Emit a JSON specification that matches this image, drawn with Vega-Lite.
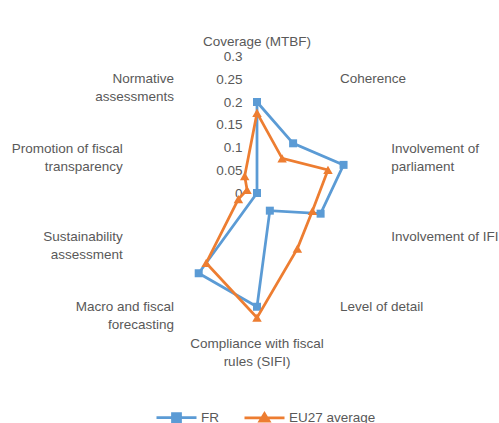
{
  "$schema": "https://vega.github.io/schema/vega-lite/v6.json",
  "width": 499,
  "height": 423,
  "autosize": "none",
  "padding": 0,
  "background": "white",
  "config": {"view": {"stroke": null}},
  "datasets": {
    "scores": [
      {"cat": "Coverage (MTBF)", "idx": 0, "series": "FR", "value": 0.2},
      {"cat": "Coherence", "idx": 1, "series": "FR", "value": 0.135},
      {"cat": "Involvement of parliament", "idx": 2, "series": "FR", "value": 0.2},
      {"cat": "Involvement of IFI", "idx": 3, "series": "FR", "value": 0.147},
      {"cat": "Level of detail", "idx": 4, "series": "FR", "value": 0.048},
      {"cat": "Compliance with fiscal rules (SIFI)", "idx": 5, "series": "FR", "value": 0.25},
      {"cat": "Macro and fiscal forecasting", "idx": 6, "series": "FR", "value": 0.218},
      {"cat": "Sustainability assessment", "idx": 7, "series": "FR", "value": 0},
      {"cat": "Promotion of fiscal transparency", "idx": 8, "series": "FR", "value": 0},
      {"cat": "Normative assessments", "idx": 9, "series": "FR", "value": 0},
      {"cat": "Coverage (MTBF)", "idx": 0, "series": "EU27 average", "value": 0.176},
      {"cat": "Coherence", "idx": 1, "series": "EU27 average", "value": 0.094},
      {"cat": "Involvement of parliament", "idx": 2, "series": "EU27 average", "value": 0.164},
      {"cat": "Involvement of IFI", "idx": 3, "series": "EU27 average", "value": 0.128},
      {"cat": "Level of detail", "idx": 4, "series": "EU27 average", "value": 0.151},
      {"cat": "Compliance with fiscal rules (SIFI)", "idx": 5, "series": "EU27 average", "value": 0.274},
      {"cat": "Macro and fiscal forecasting", "idx": 6, "series": "EU27 average", "value": 0.19},
      {"cat": "Sustainability assessment", "idx": 7, "series": "EU27 average", "value": 0.043},
      {"cat": "Promotion of fiscal transparency", "idx": 8, "series": "EU27 average", "value": 0.023},
      {"cat": "Normative assessments", "idx": 9, "series": "EU27 average", "value": 0.046}
    ],
    "cats": [
      {"idx": 0, "label": "Coverage (MTBF)"},
      {"idx": 1, "label": "Coherence"},
      {"idx": 2, "label": "Involvement of\nparliament"},
      {"idx": 3, "label": "Involvement of IFI"},
      {"idx": 4, "label": "Level of detail"},
      {"idx": 5, "label": "Compliance with fiscal\nrules (SIFI)"},
      {"idx": 6, "label": "Macro and fiscal\nforecasting"},
      {"idx": 7, "label": "Sustainability\nassessment"},
      {"idx": 8, "label": "Promotion of fiscal\ntransparency"},
      {"idx": 9, "label": "Normative\nassessments"}
    ]
  },
  "encoding": {
    "x": {"field": "px", "type": "quantitative", "scale": {"domain": [-0.56484, 0.53187], "nice": false, "zero": false}, "axis": null},
    "y": {"field": "py", "type": "quantitative", "scale": {"domain": [-0.50549, 0.42418], "nice": false, "zero": false},
      "axis": {"values": [0, 0.05, 0.1, 0.15, 0.2, 0.25, 0.3], "labelExpr": "'' + datum.value", "orient": "left", "offset": -244, "domain": false, "ticks": false, "tickSize": 0, "grid": false, "labelPadding": 2, "title": null, "labelFont": "Liberation Sans", "labelFontSize": 13.5, "labelColor": "#595959"}}
  },
  "layer": [
    {
      "data": {"name": "scores"},
      "transform": [
        {"filter": "datum.series === 'FR'"},
        {"calculate": "datum.idx * PI / 5", "as": "ang"},
        {"calculate": "datum.value * sin(datum.ang)", "as": "px"},
        {"calculate": "datum.value * cos(datum.ang)", "as": "py"}
      ],
      "mark": {"type": "line", "interpolate": "linear-closed", "strokeWidth": 2.75},
      "encoding": {
        "order": {"field": "idx", "type": "quantitative"},
        "color": {"field": "series", "type": "nominal",
          "scale": {"domain": ["FR", "EU27 average"], "range": ["#5B9BD5", "#ED7D31"]},
          "legend": {"title": null, "orient": "none", "legendX": 155, "legendY": 396, "direction": "horizontal", "padding": 0,
            "labelFont": "Liberation Sans", "labelFontSize": 13.5, "labelColor": "#595959",
            "labelOffset": 3, "columnPadding": 20, "symbolSize": 1600, "symbolStrokeWidth": 2.75,
            "encode": {"symbols": {"update": {
              "shape": {"signal": "datum.value === 'FR' ? 'M-1,0H1M-0.2,-0.2H0.2V0.2H-0.2Z' : 'M-1,0H1M0,-0.21L0.23,0.17L-0.23,0.17Z'"},
              "fill": {"signal": "datum.value === 'FR' ? '#5B9BD5' : '#ED7D31'"},
              "stroke": {"signal": "datum.value === 'FR' ? '#5B9BD5' : '#ED7D31'"}
            }}}}
        }
      }
    },
    {
      "data": {"name": "scores"},
      "transform": [
        {"filter": "datum.series === 'FR'"},
        {"calculate": "datum.idx * PI / 5", "as": "ang"},
        {"calculate": "datum.value * sin(datum.ang)", "as": "px"},
        {"calculate": "datum.value * cos(datum.ang)", "as": "py"}
      ],
      "mark": {"type": "point", "shape": "square", "filled": true, "size": 64, "color": "#5B9BD5", "opacity": 1}
    },
    {
      "data": {"name": "scores"},
      "transform": [
        {"filter": "datum.series === 'EU27 average'"},
        {"calculate": "datum.idx * PI / 5", "as": "ang"},
        {"calculate": "datum.value * sin(datum.ang)", "as": "px"},
        {"calculate": "datum.value * cos(datum.ang)", "as": "py"}
      ],
      "mark": {"type": "line", "interpolate": "linear-closed", "strokeWidth": 2.75},
      "encoding": {
        "order": {"field": "idx", "type": "quantitative"},
        "color": {"field": "series", "type": "nominal",
          "scale": {"domain": ["FR", "EU27 average"], "range": ["#5B9BD5", "#ED7D31"]},
          "legend": {"title": null, "orient": "none", "legendX": 155, "legendY": 396, "direction": "horizontal", "padding": 0,
            "labelFont": "Liberation Sans", "labelFontSize": 13.5, "labelColor": "#595959",
            "labelOffset": 3, "columnPadding": 20, "symbolSize": 1600, "symbolStrokeWidth": 2.75,
            "encode": {"symbols": {"update": {
              "shape": {"signal": "datum.value === 'FR' ? 'M-1,0H1M-0.2,-0.2H0.2V0.2H-0.2Z' : 'M-1,0H1M0,-0.21L0.23,0.17L-0.23,0.17Z'"},
              "fill": {"signal": "datum.value === 'FR' ? '#5B9BD5' : '#ED7D31'"},
              "stroke": {"signal": "datum.value === 'FR' ? '#5B9BD5' : '#ED7D31'"}
            }}}}
        }
      }
    },
    {
      "data": {"name": "scores"},
      "transform": [
        {"filter": "datum.series === 'EU27 average'"},
        {"calculate": "datum.idx * PI / 5", "as": "ang"},
        {"calculate": "datum.value * sin(datum.ang)", "as": "px"},
        {"calculate": "datum.value * cos(datum.ang)", "as": "py"}
      ],
      "mark": {"type": "point", "shape": "triangle-up", "filled": true, "size": 90, "color": "#ED7D31", "opacity": 1}
    },
    {
      "data": {"name": "cats"},
      "transform": [
        {"filter": "datum.idx >= 1 && datum.idx <= 4"},
        {"calculate": "datum.idx * PI / 5", "as": "ang"},
        {"calculate": "0.31 * sin(datum.ang)", "as": "px"},
        {"calculate": "0.31 * cos(datum.ang)", "as": "py"}
      ],
      "mark": {"type": "text", "align": "left", "baseline": "middle", "lineBreak": "\n", "lineHeight": 18, "fontSize": 13.5, "font": "Liberation Sans", "color": "#595959"},
      "encoding": {"text": {"field": "label", "type": "nominal"}}
    },
    {
      "data": {"name": "cats"},
      "transform": [
        {"filter": "datum.idx >= 6"},
        {"calculate": "datum.idx * PI / 5", "as": "ang"},
        {"calculate": "0.31 * sin(datum.ang)", "as": "px"},
        {"calculate": "0.31 * cos(datum.ang)", "as": "py"}
      ],
      "mark": {"type": "text", "align": "right", "baseline": "middle", "lineBreak": "\n", "lineHeight": 18, "fontSize": 13.5, "font": "Liberation Sans", "color": "#595959"},
      "encoding": {"text": {"field": "label", "type": "nominal"}}
    },
    {
      "data": {"name": "cats"},
      "transform": [
        {"filter": "datum.idx === 0"},
        {"calculate": "datum.idx * PI / 5", "as": "ang"},
        {"calculate": "0.31 * sin(datum.ang)", "as": "px"},
        {"calculate": "0.31 * cos(datum.ang)", "as": "py"}
      ],
      "mark": {"type": "text", "align": "center", "baseline": "bottom", "dy": -3, "lineBreak": "\n", "lineHeight": 18, "fontSize": 13.5, "font": "Liberation Sans", "color": "#595959"},
      "encoding": {"text": {"field": "label", "type": "nominal"}}
    },
    {
      "data": {"name": "cats"},
      "transform": [
        {"filter": "datum.idx === 5"},
        {"calculate": "datum.idx * PI / 5", "as": "ang"},
        {"calculate": "0.31 * sin(datum.ang)", "as": "px"},
        {"calculate": "0.31 * cos(datum.ang)", "as": "py"}
      ],
      "mark": {"type": "text", "align": "center", "baseline": "top", "dy": 3, "lineBreak": "\n", "lineHeight": 18, "fontSize": 13.5, "font": "Liberation Sans", "color": "#595959"},
      "encoding": {"text": {"field": "label", "type": "nominal"}}
    },
    {
      "mark": {"type": "text", "align": "center", "baseline": "middle", "fontSize": 19, "font": "Liberation Sans", "color": "#000000"},
      "encoding": {
        "x": {"datum": -0.435, "type": "quantitative"},
        "y": {"datum": 0.371, "type": "quantitative"},
        "text": {"value": "SIFI"}
      }
    },
    {
      "mark": {"type": "text", "align": "center", "baseline": "middle", "fontSize": 19, "font": "Liberation Sans", "color": "#000000"},
      "encoding": {
        "x": {"datum": 0.385, "type": "quantitative"},
        "y": {"datum": 0.369, "type": "quantitative"},
        "text": {"value": "MTBF"}
      }
    }
  ]
}
